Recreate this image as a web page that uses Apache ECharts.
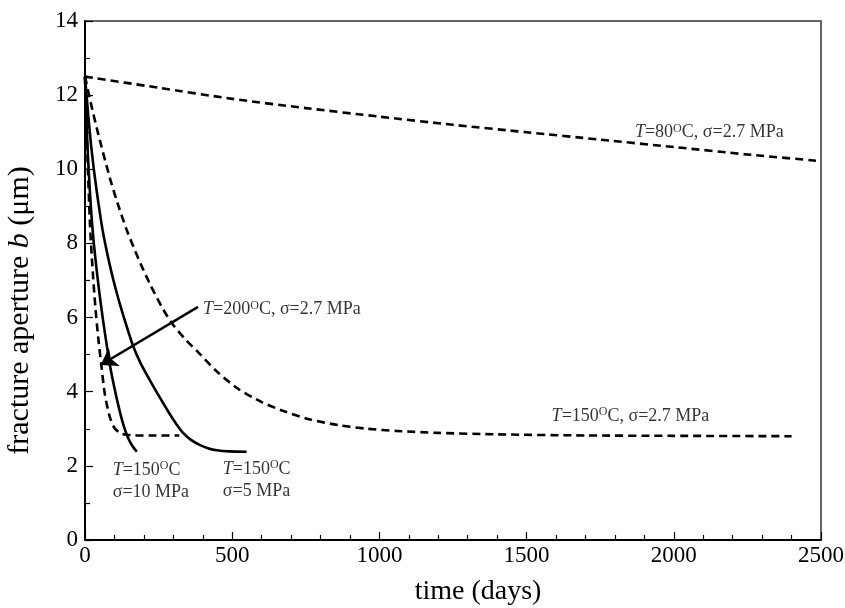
<!DOCTYPE html>
<html>
<head>
<meta charset="utf-8">
<script src="https://cdn.jsdelivr.net/npm/echarts@6/dist/echarts.min.js"></script>
<style>html,body{margin:0;padding:0;background:#fff}#c{width:845px;height:608px}</style>
</head>
<body>
<div id="c"></div>
<script>
// Series data: [time (days), fracture aperture (um)]
var curve80_27 = [[0,12.5],[250,12.2],[500,11.9],[750,11.65],[1000,11.42],[1250,11.2],[1500,11.0],[1750,10.8],[2000,10.6],[2250,10.4],[2500,10.22]];
var curve150_27 = [[0,12.5],[20,11.78],[45,10.95],[85,9.75],[110,9.1],[140,8.4],[165,7.9],[190,7.43],[221,6.9],[260,6.3],[294,5.86],[340,5.42],[384,5.07],[447,4.55],[520,4.08],[600,3.72],[674,3.48],[760,3.26],[860,3.1],[960,3.0],[1060,2.94],[1200,2.89],[1400,2.85],[1700,2.82],[2000,2.81],[2400,2.8]];
var curve200_27 = [[0,12.5],[5,11.2],[10,10.0],[17,8.5],[25,7.4],[35,6.3],[45,5.45],[55,4.75],[68,3.9],[85,3.3],[100,3.02],[120,2.88],[140,2.84],[170,2.82],[220,2.82],[320,2.82]];
var curve150_10 = [[0,12.5],[4,11.5],[8,10.7],[12,10.05],[17,9.35],[23,8.65],[30,8.0],[38,7.4],[48,6.72],[60,6.0],[72,5.35],[85,4.7],[100,4.1],[115,3.57],[130,3.12],[145,2.78],[160,2.55],[176,2.38]];
var curve150_5 = [[0,12.5],[10,11.55],[20,10.7],[30,10.0],[40,9.4],[50,8.85],[60,8.35],[75,7.75],[90,7.22],[105,6.75],[120,6.32],[140,5.8],[164,5.22],[190,4.75],[221,4.3],[250,3.9],[280,3.5],[310,3.13],[334,2.88],[360,2.7],[391,2.56],[420,2.47],[447,2.42],[490,2.39],[549,2.38]];
// Arrow from label to the 200 C curve
var arrow200 = [[384,6.29],[53,4.72]];
// Annotation anchors [time, aperture] and texts
var labelPoints = [[1868,11.04],[1585,3.40],[401,6.27],[94,1.65],[468,1.67]];
var labelTexts = [
  '{t|T}{n|=80}{s|O}{n|C, σ=2.7 MPa}',
  '{t|T}{n|=150}{s|O}{n|C, σ=2.7 MPa}',
  '{t|T}{n|=200}{s|O}{n|C, σ=2.7 MPa}',
  '{t|T}{n|=150}{s|O}{n|C}\n{n|σ=10 MPa}',
  '{t|T}{n|=150}{s|O}{n|C}\n{n|σ=5 MPa}'
];
var xTicks = {min:0, max:2500, interval:500};
var yTicks = {min:0, max:14, interval:2};

var FONT = 'Liberation Serif';
var chart = echarts.init(document.getElementById('c'));
var richStyles = {
  t:{fontFamily:FONT, fontSize:18, fontStyle:'italic', color:'#000', lineHeight:22, verticalAlign:'bottom'},
  n:{fontFamily:FONT, fontSize:18, color:'#000', lineHeight:22, verticalAlign:'bottom'},
  s:{fontFamily:FONT, fontSize:12, color:'#000', lineHeight:22, verticalAlign:'bottom', padding:[0,0,7,0]}
};
function lineSeries(data, dashed){
  return {type:'line', data:data, showSymbol:false, symbol:'none', smooth:0.25,
    lineStyle:{color:'#000', width:2.6, type: dashed ? [8,5] : 'solid', cap:'butt', join:'round'}, silent:true, z:3};
}
function plain(v){ return String(v); }
var option = {
  animation:false,
  backgroundColor:'#fff',
  grid:{left:85, right:24, top:21, bottom:68, show:true, borderColor:'#333', borderWidth:1.5,
    backgroundColor:'transparent', containLabel:false, outerBoundsMode:'none'},
  xAxis:{type:'value', min:xTicks.min, max:xTicks.max, interval:xTicks.interval,
    name:'time (days)', nameLocation:'middle', nameGap:38,
    nameTextStyle:{fontFamily:FONT, fontSize:28, color:'#000', padding:[0,0,0,50]},
    axisLine:{show:true, lineStyle:{color:'#000', width:2}},
    axisTick:{show:true, inside:true, length:8, lineStyle:{color:'#000', width:1.2}},
    minorTick:{show:true, splitNumber:5, length:5, lineStyle:{color:'#000', width:1.2}},
    axisLabel:{fontFamily:FONT, fontSize:23, color:'#000', margin:4, formatter:plain},
    splitLine:{show:false}},
  yAxis:{type:'value', min:yTicks.min, max:yTicks.max, interval:yTicks.interval,
    name:'fracture aperture {i|b} (μm)', nameLocation:'middle', nameGap:50, nameRotate:90,
    nameTextStyle:{fontFamily:FONT, fontSize:30, color:'#000', padding:[0,60,0,0],
      rich:{i:{fontFamily:FONT, fontSize:30, fontStyle:'italic', color:'#000'}}},
    axisLine:{show:true, lineStyle:{color:'#000', width:2}},
    axisTick:{show:true, inside:true, length:8, lineStyle:{color:'#000', width:1.2}},
    minorTick:{show:true, splitNumber:2, length:5, lineStyle:{color:'#000', width:1.2}},
    axisLabel:{fontFamily:FONT, fontSize:23, color:'#000', margin:7, formatter:plain},
    splitLine:{show:false}},
  series:[
    lineSeries(curve80_27, true),
    lineSeries(curve150_27, true),
    lineSeries(curve200_27, true),
    lineSeries(curve150_10, false),
    lineSeries(curve150_5, false),
    {type:'lines', coordinateSystem:'cartesian2d', silent:true, z:4,
      symbol:['none','arrow'], symbolSize:[0,16],
      lineStyle:{color:'#000', width:2.5, opacity:1, curveness:0},
      data:[{coords:arrow200}]},
    {type:'scatter', symbolSize:0, silent:true, z:5,
      data: labelPoints.map(function(p,i){ return {value:p, label:{formatter:labelTexts[i]}}; }),
      label:{show:true, position:'right', distance:0, align:'left', color:'#000', rich:richStyles}}
  ]
};
chart.setOption(option);
</script>
</body>
</html>
